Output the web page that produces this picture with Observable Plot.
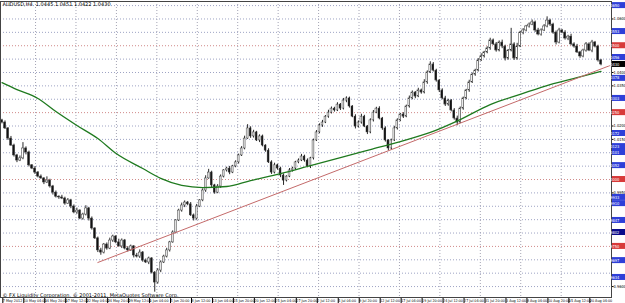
<!DOCTYPE html>
<html><head><meta charset="utf-8">
<script src="https://cdn.jsdelivr.net/npm/d3@7"></script>
<script src="https://cdn.jsdelivr.net/npm/@observablehq/plot@0.6"></script>
<style>
html,body{margin:0;padding:0;background:#fff;}
#chart{width:625px;height:303px;overflow:hidden;}
</style></head><body><div id="chart"></div>
<script>
const symbolTitle = "AUDUSD,H4  1.0445 1.0451 1.0422 1.0430";
const copyright = "© FX Liquidity Corporation, © 2001-2011, MetaQuotes Software Corp.";

const firstOpen = 1.0221;
const closes = [
1.0213,1.0191,1.0153,1.0127,1.0090,1.0071,1.0079,1.0116,1.0101,1.0053,
1.0041,1.0026,1.0011,1.0004,0.9989,0.9996,0.9974,0.9951,0.9936,0.9933,
0.9929,0.9910,0.9922,0.9899,0.9877,0.9884,0.9854,0.9869,0.9892,0.9854,
0.9817,0.9780,0.9735,0.9727,0.9757,0.9742,0.9772,0.9787,0.9765,0.9750,
0.9772,0.9742,0.9735,0.9750,0.9716,0.9712,0.9727,0.9697,0.9690,0.9705,
0.9652,0.9615,0.9660,0.9690,0.9712,0.9735,0.9765,0.9802,0.9847,0.9884,
0.9903,0.9914,0.9907,0.9866,0.9854,0.9899,0.9922,0.9959,1.0004,1.0026,
0.9978,0.9951,0.9974,1.0011,1.0034,1.0041,1.0026,1.0049,1.0064,1.0090,
1.0116,1.0153,1.0191,1.0161,1.0176,1.0146,1.0161,1.0127,1.0108,1.0064,
1.0026,1.0053,1.0041,1.0015,0.9996,1.0011,1.0034,1.0041,1.0064,1.0071,
1.0086,1.0071,1.0049,1.0079,1.0146,1.0176,1.0202,1.0213,1.0235,1.0250,
1.0265,1.0258,1.0280,1.0265,1.0295,1.0303,1.0273,1.0235,1.0198,1.0213,
1.0235,1.0198,1.0176,1.0221,1.0250,1.0265,1.0228,1.0191,1.0146,1.0116,
1.0146,1.0191,1.0221,1.0243,1.0235,1.0273,1.0303,1.0325,1.0310,1.0333,
1.0325,1.0363,1.0400,1.0430,1.0407,1.0370,1.0333,1.0303,1.0280,1.0295,
1.0258,1.0228,1.0213,1.0265,1.0303,1.0333,1.0363,1.0392,1.0407,1.0445,
1.0460,1.0475,1.0490,1.0520,1.0505,1.0482,1.0512,1.0497,1.0452,1.0482,
1.0505,1.0452,1.0497,1.0549,1.0557,1.0572,1.0579,1.0587,1.0557,1.0542,
1.0557,1.0572,1.0594,1.0579,1.0549,1.0512,1.0557,1.0549,1.0527,1.0534,
1.0505,1.0497,1.0475,1.0460,1.0482,1.0505,1.0482,1.0512,1.0497,1.0445,
1.0430];
// upper and lower shadow lengths, in pips
const upperShadow = [
4,6,3,8,5,4,9,22,6,5, 3,7,4,6,3,14,5,4,6,3, 8,5,7,4,6,9,3,5,10,4, 6,3,5,8,4,6,9,5,3,12,
6,4,7,5,3,8,10,4,6,5, 3,4,7,6,5,8,4,6,3,5, 9,6,4,7,5,8,3,6,10,12, 5,4,7,6,3,5,8,4,6,5,
7,9,14,6,8,4,6,5,3,7, 6,8,4,5,6,3,7,5,4,6, 8,5,6,4,5,7,6,8,4,9, 6,5,7,4,8,6,5,3,7,6,
9,5,4,6,8,5,7,4,6,3, 5,8,6,4,7,5,9,6,4,8, 5,10,6,10,7,5,3,6,8,5, 4,7,9,6,5,4,8,6,5,7,
10,4,6,8,5,7,6,9,5,4, 60,6,12,5,7,4,6,9,5,8, 6,7,14,5,5,6,8,4,7,5, 9,6,8,4,5,7,6,8,4,5,
4];
const lowerShadow = [
5,4,7,3,6,8,4,5,9,6, 4,7,5,3,8,4,6,9,5,7, 4,6,3,8,5,7,4,6,5,9, 6,4,8,10,5,6,4,7,5,3,
8,5,6,4,9,5,7,6,4,8, 5,36,6,8,4,5,6,3,5,4, 6,8,5,4,9,6,4,5,7,3, 8,6,4,7,5,6,8,4,5,6,
4,5,3,7,6,4,8,5,6,4, 7,5,6,8,18,5,4,6,7,5, 4,6,5,8,6,4,5,7,4,6, 5,6,4,7,5,8,6,4,9,5,
6,4,8,5,6,4,5,7,6,9, 5,4,6,5,7,4,6,5,8,4, 6,5,7,4,5,6,8,5,7,6, 5,6,12,4,6,5,7,4,6,5,
4,6,5,7,4,6,5,8,9,6, 5,7,6,4,8,5,6,4,7,5, 6,4,5,7,6,9,5,4,6,8, 5,6,4,7,5,6,4,8,5,6,
5];

const maBars = [0,5,12,18,25,32,38,47,53,60,67,75,83,93,103,113,123,133,143,153,163,173,183,192,200];
const maValues = [1.0362,1.0336,1.0303,1.0254,1.0202,1.0153,1.0098,1.0041,1.0004,0.9978,0.9970,0.9974,0.9996,1.0022,1.0052,1.0082,1.0112,1.0142,1.0176,1.0224,1.0280,1.0318,1.0355,1.0381,1.0404];

const trendBars = [32, 203];
const trendValues = [0.9690, 1.0426];

const gridPrices = [0.9600,0.9650,0.9700,0.9750,0.9800,0.9850,0.9900,0.9950,1.0000,1.0050,1.0100,1.0150,1.0200,1.0250,1.0300,1.0350,1.0400,1.0450,1.0500,1.0550,1.0600,1.0650];
const redLevels = [0.9750,1.0000,1.0250,1.0500];
const blueLevels = [1.0650,1.0553,1.0456,1.0378,1.0303,1.0172,1.0123,1.0101,1.0052,0.9933,0.9910,0.9847,0.9697,0.9634];
const navyLevels = [0.9802];
const gridBars = [11.2,24.7,38.2,51.7,65.2,78.7,92.2,105.7,119.2,132.7,146.2,159.7,173.2,186.7];

const labelBars = [0,7,14,21,28,35,42,49,56,63,70,77,84,91,98,105,112,119,126,133,140,147,154,161,168,175,182,189,196];
const tickLabels = ["7 May 2012","10 May 04:00","14 May 20:00","17 May 12:00","22 May 04:00","24 May 20:00","29 May 12:00","1 Jun 04:00","5 Jun 20:00","8 Jun 12:00","13 Jun 04:00","15 Jun 20:00","20 Jun 12:00","25 Jun 04:00","27 Jun 20:00","2 Jul 12:00","5 Jul 04:00","9 Jul 20:00","12 Jul 12:00","17 Jul 04:00","19 Jul 20:00","24 Jul 12:00","27 Jul 04:00","31 Jul 20:00","3 Aug 12:00","8 Aug 04:00","10 Aug 20:00","15 Aug 12:00","20 Aug 04:00"];

const narrow = "'Liberation Sans Narrow', 'DejaVu Sans Condensed', sans-serif";
const lastClose = closes[closes.length - 1];
const bars = closes.map((c, i) => {
  const o = i ? closes[i - 1] : firstOpen;
  return {i, o, c, h: Math.max(o, c) + upperShadow[i] * 1e-4, l: Math.min(o, c) - lowerShadow[i] * 1e-4};
});
const ma = maBars.map((b, k) => ({b, v: maValues[k]}));
const trend = trendBars.map((b, k) => ({b, v: trendValues[k]}));
const blueGrid = gridPrices.filter(p => !redLevels.includes(p));
const boxLevels = [...blueLevels, ...navyLevels, ...redLevels, lastClose];
const axisTicks = gridPrices.filter(p => boxLevels.every(b => Math.abs(b - p) > 0.0017));
const fmt = d3.format(".4f");

const plot = Plot.plot({
  width: 625, height: 303,
  marginLeft: 0, marginRight: 14, marginTop: 1, marginBottom: 6,
  style: {background: "#fff", fontFamily: "DejaVu Sans, sans-serif", fontSize: "5px", color: "#000"},
  x: {domain: [-0.5, 203.5]},
  y: {domain: [0.95591, 1.06653]},
  marks: [
    Plot.ruleY(blueGrid, {stroke: "#9ea3c4", strokeDasharray: "1,2"}),
    Plot.ruleY(redLevels, {stroke: "#d08a8a", strokeDasharray: "1,2"}),
    Plot.ruleX(gridBars, {stroke: "#a4a4b4", strokeDasharray: "1,2"}),
    Plot.ruleX(bars, {x: "i", y1: "l", y2: "h", stroke: "#111", strokeWidth: 0.9}),
    Plot.rect(bars, {x1: d => d.i - 0.3, x2: d => d.i + 0.3, y1: "o", y2: "c",
      fill: d => d.c >= d.o ? "#fff" : "#111", stroke: "#333", strokeWidth: 0.5}),
    Plot.line(ma, {x: "b", y: "v", stroke: "#1f7a1f", strokeWidth: 1.3, curve: "monotone-x"}),
    Plot.line(trend, {x: "b", y: "v", stroke: "#c46a6a", strokeWidth: 1}),
    Plot.axisY({anchor: "right", ticks: axisTicks, tickFormat: fmt, tickSize: 1.5, tickPadding: 0.5, fontSize: 4, fontFamily: narrow}),
    Plot.axisX({ticks: labelBars, tickFormat: d => tickLabels[labelBars.indexOf(d)], tickSize: 6, tickPadding: -4, textAnchor: "start", dx: 0.8, fontSize: 3.7, fontFamily: narrow}),
    Plot.text([symbolTitle], {frameAnchor: "top-left", dx: 2, dy: 1, fontSize: 5, lineAnchor: "top", textAnchor: "start"}),
    Plot.text([copyright], {frameAnchor: "bottom-left", dx: 2, dy: -1, fontSize: 5, lineAnchor: "bottom", textAnchor: "start"}),
    Plot.frame({stroke: "#444"})
  ]
});
document.getElementById("chart").appendChild(plot);

// price boxes on the right axis, positioned with Plot's own y scale
const svg = d3.select(plot);
const ys = plot.scale("y");
function box(p, color) {
  const y = ys.apply(p);
  svg.append("rect").attr("x", 612).attr("y", y - 3).attr("width", 13).attr("height", 6).attr("fill", color);
  svg.append("text").attr("x", 613).attr("y", y + 1.6).attr("fill", "#fff").attr("font-size", 4)
    .attr("font-family", narrow).text(fmt(p));
}
blueLevels.forEach(p => box(p, "#2e3fd8"));
navyLevels.forEach(p => box(p, "#0a0a8a"));
redLevels.forEach(p => box(p, "#d83a3a"));
box(lastClose, "#000");
</script></body></html>
